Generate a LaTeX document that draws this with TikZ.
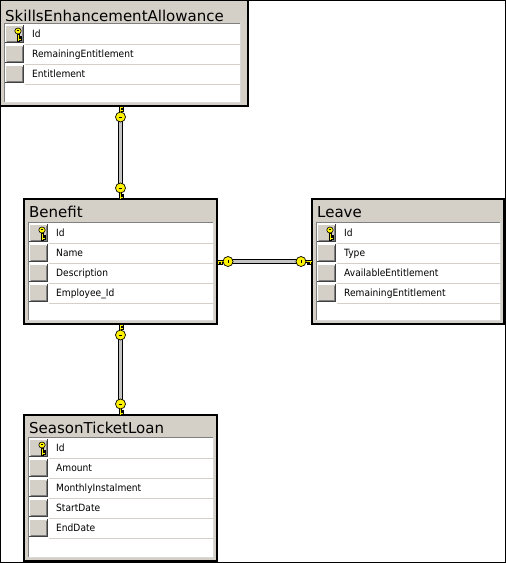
\documentclass[tikz,border=0pt]{standalone}
\usepackage{fontspec}
\setmainfont{DejaVu Sans}
\newfontfamily\rowfont[FakeStretch=0.91]{DejaVu Sans}
\usetikzlibrary{calc}
\definecolor{winbg}{HTML}{D4D0C8}
\definecolor{shadowgray}{HTML}{808080}
\definecolor{darkgray}{HTML}{404040}
\definecolor{keyy}{HTML}{FFF200}
\definecolor{linkgray}{HTML}{C4C4C4}
\tikzset{
  tabbox/.style={draw=black, line width=1.6pt, fill=winbg, inner sep=0pt, outer sep=0pt, anchor=north west},
  titletext/.style={anchor=base west, inner sep=0pt, font=\fontsize{15}{15}\selectfont},
  rowtext/.style={anchor=base west, inner sep=0pt, font=\rowfont\fontsize{10}{11}\selectfont},
  linkouter/.style={line width=5pt, draw=black},
  linkinner/.style={line width=3pt, draw=linkgray},
  keyline/.style={fill=keyy, draw=black, line width=0.7pt},
  relkey/.pic={
    \filldraw[keyline] (3,-1.3) -- (11,-1.3) -- (11,1.3) -- (10.2,1.3) -- (10.2,3.2) -- (8.7,3.2) -- (8.7,1.3)
      -- (7.6,1.3) -- (7.6,3.2) -- (6.1,3.2) -- (6.1,1.3) -- (3,1.3) -- cycle;
    \filldraw[keyline] (0,0) circle (5);
    \draw[black, line width=1pt] (0,-1.8) -- (0,1.8);
  }
}
% box: name L T R B
\newcommand\erbox[5]{%
  \node[tabbox, minimum width={(#4-#2)*1pt}, minimum height={(#5-#3)*1pt}] (#1) at (#2,#3) {};}
% panel: L top WR B
\newcommand\erpanel[4]{%
  \fill[white] ({#1+4},#2) rectangle (#3,{#4-4});
  \draw[shadowgray, line width=1pt] ({#1+4},{#4-4}) -- ({#1+4},#2) -- (#3,#2);
  \draw[white!85!black, line width=1pt] (#3,#2) -- (#3,{#4-4}) -- ({#1+4},{#4-4});}
% row: name L rowtop WR text
\newcommand\errow[5]{%
  \draw[winbg, line width=1pt] ({#2+25},{#3+20}) -- (#4,{#3+20});
  \fill[winbg] ({#2+5},{#3+1}) rectangle ({#2+24},{#3+19});
  \draw[white, line width=1pt] ({#2+5.5},{#3+18}) -- ({#2+5.5},{#3+1.5}) -- ({#2+23},{#3+1.5});
  \draw[shadowgray, line width=1pt] ({#2+6.5},{#3+17.5}) -- ({#2+22.5},{#3+17.5}) -- ({#2+22.5},{#3+2.5});
  \draw[darkgray, line width=1pt] ({#2+5},{#3+18.7}) -- ({#2+23.7},{#3+18.7}) -- ({#2+23.7},{#3+1});
  \node[rowtext] (#1) at ({#2+32},{#3+13.5}) {#5};}
% small key icon in first button: L rowtop
\newcommand\erkey[2]{%
  \filldraw[fill=keyy, draw=black, line width=0.6pt] ({#1+16.8},{#2+10}) -- ({#1+16.8},{#2+17}) -- ({#1+19.2},{#2+17})
    -- ({#1+19.2},{#2+16}) -- ({#1+20.8},{#2+16}) -- ({#1+20.8},{#2+14.6}) -- ({#1+19.2},{#2+14.6})
    -- ({#1+19.2},{#2+13.6}) -- ({#1+20.8},{#2+13.6}) -- ({#1+20.8},{#2+12.2}) -- ({#1+19.2},{#2+12.2})
    -- ({#1+19.2},{#2+10}) -- cycle;
  \filldraw[fill=keyy, draw=black, line width=0.6pt] ({#1+18},{#2+7}) ellipse (3.2 and 3);
  \fill[black] ({#1+17.2},{#2+6.3}) rectangle ({#1+18.8},{#2+7.3});}
\begin{document}
\begin{tikzpicture}[x=1pt,y=-1pt]
\useasboundingbox (0,0) rectangle (506,563);
\fill[white] (0,0) rectangle (506,563);

% SkillsEnhancementAllowance
\erbox{sea}{0}{0}{248}{106}
\erpanel{0}{23}{240}{106}
\node[titletext] (seaT) at (5,21) {SkillsEnhancementAllowance};
\errow{seaA}{0}{24}{240}{Id}
\errow{seaB}{0}{44}{240}{RemainingEntitlement}
\errow{seaC}{0}{64}{240}{Entitlement}
\erkey{0}{24}

% Benefit
\erbox{ben}{24}{199}{217}{324}
\erpanel{24}{222}{213}{324}
\node[titletext] (benT) at (29,217) {Benefit};
\errow{benA}{24}{223}{213}{Id}
\errow{benB}{24}{243}{213}{Name}
\errow{benC}{24}{263}{213}{Description}
\errow{benD}{24}{283}{213}{Employee\_Id}
\erkey{24}{223}

% Leave
\erbox{lea}{312}{199}{504}{324}
\erpanel{312}{222}{500}{324}
\node[titletext] (leaT) at (317,217) {Leave};
\errow{leaA}{312}{223}{500}{Id}
\errow{leaB}{312}{243}{500}{Type}
\errow{leaC}{312}{263}{500}{AvailableEntitlement}
\errow{leaD}{312}{283}{500}{RemainingEntitlement}
\erkey{312}{223}

% SeasonTicketLoan
\erbox{stl}{24}{415}{217}{561}
\erpanel{24}{437}{213}{561}
\node[titletext] (stlT) at (29,433) {SeasonTicketLoan};
\errow{stlA}{24}{438}{213}{Id}
\errow{stlB}{24}{458}{213}{Amount}
\errow{stlC}{24}{478}{213}{MonthlyInstalment}
\errow{stlD}{24}{498}{213}{StartDate}
\errow{stlE}{24}{518}{213}{EndDate}
\erkey{24}{438}

% connectors
\coordinate (k1) at ($(sea.south -| ben.north)+(0,11)$);
\coordinate (k2) at ($(ben.north)+(0,-11)$);
\coordinate (k3) at ($(ben.east)+(11,0)$);
\coordinate (k4) at ($(lea.west)+(-11,0)$);
\coordinate (k5) at ($(ben.south)+(0,11)$);
\coordinate (k6) at ($(stl.north)+(0,-11)$);
\foreach \a/\b in {k1/k2,k3/k4,k5/k6}{
  \draw[linkouter] (\a) -- (\b);
  \draw[linkinner] (\a) -- (\b);
}
\pic[rotate=90] at (k1) {relkey};
\pic[rotate=-90,yscale=-1] at (k2) {relkey};
\pic[rotate=180,yscale=-1] at (k3) {relkey};
\pic at (k4) {relkey};
\pic[rotate=90] at (k5) {relkey};
\pic[rotate=-90,yscale=-1] at (k6) {relkey};

% frame
\draw[black, line width=1pt] (0.5,0.5) rectangle (505.5,562.5);
\end{tikzpicture}
\end{document}
